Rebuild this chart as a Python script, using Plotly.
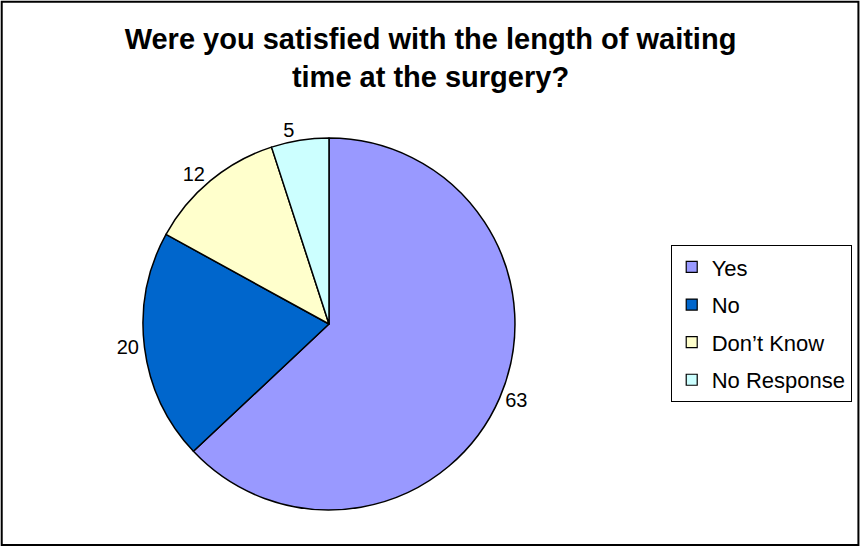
import plotly.graph_objects as go

labels = ["Yes", "No", "Don\u2019t Know", "No Response"]
values = [63, 20, 12, 5]
colors = ["#9999FF", "#0066CC", "#FFFFCC", "#CCFFFF"]

W, H = 861, 546
FONT = "Liberation Sans, Arial"

fig = go.Figure()

fig.add_trace(
    go.Pie(
        labels=labels,
        values=values,
        sort=False,
        direction="clockwise",
        rotation=0,
        marker=dict(colors=colors, line=dict(color="black", width=1.5)),
        textinfo="value",
        textposition="outside",
        textfont=dict(family=FONT, size=20, color="black"),
        domain=dict(x=[0.1661, 0.5981], y=[0.0659, 0.7473]),
        hoverinfo="label+value",
        showlegend=False,
    )
)

# legend entries drawn as square markers so the row spacing can be set
for name, col in zip(labels, colors):
    fig.add_trace(
        go.Scatter(
            x=[None],
            y=[None],
            mode="markers",
            name=name,
            legendgroup=name,
            marker=dict(symbol="square", size=11, color=col,
                        line=dict(color="black", width=1.2)),
        )
    )

fig.update_layout(
    width=W,
    height=H,
    margin=dict(l=0, r=0, t=0, b=0),
    paper_bgcolor="white",
    plot_bgcolor="white",
    xaxis=dict(visible=False),
    yaxis=dict(visible=False),
    font=dict(family=FONT, size=20, color="black"),
    title=dict(
        text="<b>Were you satisfied with the length of waiting<br>time at the surgery?</b>",
        x=0.5,
        xanchor="center",
        y=0.91,
        yanchor="top",
        font=dict(family=FONT, size=29, color="black"),
    ),
    legend=dict(
        x=0.779,
        y=0.551,
        xanchor="left",
        yanchor="top",
        bordercolor="black",
        borderwidth=1,
        bgcolor="white",
        font=dict(family=FONT, size=22, color="black"),
        itemwidth=30,
        tracegroupgap=6,
        itemclick=False,
    ),
    shapes=[
        dict(
            type="rect",
            xref="paper",
            yref="paper",
            x0=0.002,
            y0=0.002,
            x1=0.997,
            y1=0.997,
            line=dict(color="black", width=2),
        )
    ],
)

fig.write_html(
    "out.html",
    config={"displayModeBar": False},
    post_script="document.body.style.margin='0';",
)
